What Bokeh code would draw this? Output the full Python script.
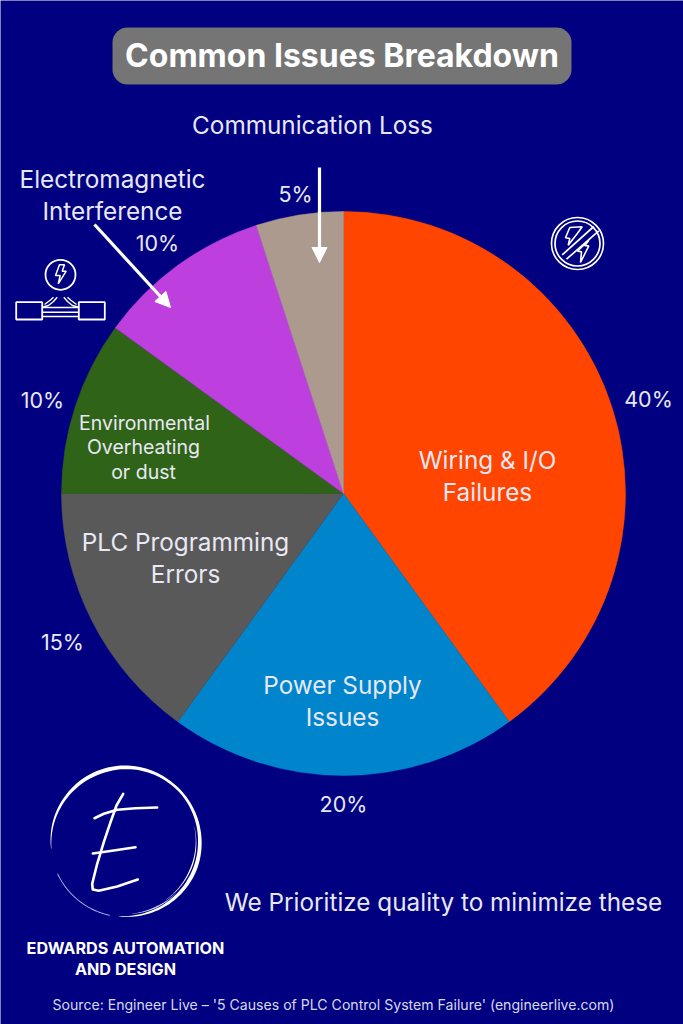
import numpy as np
from bokeh.core.properties import value
from bokeh.embed import file_html
from bokeh.models import Arrow, NormalHead, Range1d
from bokeh.plotting import figure
from bokeh.resources import INLINE

# pie data, clockwise from 12 o'clock
shares = [40, 20, 15, 10, 10, 5]
colors = ["#FF4500", "#0084CC", "#595959", "#2F6318", "#BC3FDE", "#AD9A8E"]

title_text = "Common Issues Breakdown"
pct_labels = ["40%", "20%", "15%", "10%", "10%", "5%"]
pct_x = [648, 343, 62, 42, 157, 295]
pct_y = [398, 803, 641, 399, 242, 193]

big_labels = ["Communication Loss", "Electromagnetic", "Interference", "Wiring & I/O", "Failures",
              "Power Supply", "Issues", "PLC Programming", "Errors",
              "We Prioritize quality to minimize these"]
big_x = [312, 112, 112, 487, 487, 342, 342, 185, 185, 443]
big_y = [124, 178, 210, 459, 491, 684, 716, 541, 573, 901]

small_labels = ["Environmental", "Overheating", "or dust"]
small_x = [144, 143, 143]
small_y = [422, 446, 471]

BG = "#000080"
TEXT = "#E8E8F4"
HEIGHT = 1024


def fy(y):
    # picture rows run downwards, the plot's y runs upwards
    return HEIGHT - np.asarray(y, dtype=float)


p = figure(width=683, height=HEIGHT, output_backend="svg", toolbar_location=None,
           x_range=Range1d(0, 683), y_range=Range1d(0, HEIGHT),
           x_axis_location=None, y_axis_location=None, min_border=0,
           background_fill_color=BG, border_fill_color=BG, outline_line_color=None)
p.grid.grid_line_color = None

# title pill
corner = np.linspace(0, np.pi / 2, 12)
r = 15
pill_x = np.concatenate([571 - r + r * np.sin(corner), 571 - r + r * np.cos(corner),
                         112 + r - r * np.sin(corner), 112 + r - r * np.cos(corner)])
pill_y = np.concatenate([27 + r - r * np.cos(corner), 84 - r + r * np.sin(corner),
                         84 - r + r * np.cos(corner), 27 + r - r * np.sin(corner)])
p.patch(pill_x, fy(pill_y), fill_color="#757575", line_color=None)
p.text([341.5], fy([55]), text=[title_text], text_color="white", text_font=value("Inter"),
       text_font_style="bold", text_font_size="32px", text_align="center", text_baseline="middle")

# pie
edges = np.cumsum([0] + shares) / sum(shares) * 2 * np.pi
p.wedge(x=343, y=fy(493), radius=282,
        start_angle=np.pi / 2 - edges[1:], end_angle=np.pi / 2 - edges[:-1],
        fill_color=colors, line_color=colors, line_width=0.5)


def text_block(xs, ys, labels, size):
    p.text(xs, fy(ys), text=labels, text_color=TEXT, text_font=value("Inter"), text_font_size=size,
           text_align="center", text_baseline="middle")


text_block(pct_x, pct_y, pct_labels, "21.5px")
text_block(big_x, big_y, big_labels, "24.3px")
text_block(small_x, small_y, small_labels, "19.5px")

# bold company name and source line
p.text([125, 125], fy([947, 968]), text=["EDWARDS AUTOMATION", "AND DESIGN"], text_color="white",
       text_font=value("Inter"), text_font_style="bold", text_font_size="16.2px",
       text_align="center", text_baseline="middle")
p.text([333], fy([1004]), text=["Source: Engineer Live \u2013 '5 Causes of PLC Control System Failure' (engineerlive.com)"],
       text_color="#D8D8EC", text_font=value("Inter"), text_font_size="14.1px",
       text_align="center", text_baseline="middle")

# arrows
for x0, y0, x1, y1 in [(319, 167, 319, 262), (94, 224, 170, 307)]:
    p.add_layout(Arrow(end=NormalHead(size=15, fill_color="white", line_color="white", line_width=1),
                       x_start=x0, y_start=fy(y0), x_end=x1, y_end=fy(y1),
                       line_color="white", line_width=3.2))

# no-lightning icon
p.circle([577, 577], fy([243, 243]), radius=[26, 22.5], fill_color=None, line_color="white", line_width=1.7)
p.multi_line([[561.7, 593.3], [566, 598.3]], [list(fy([254.3, 226])), list(fy([258.7, 230.3]))],
             line_color="white", line_width=1.7)
p.patch([569.3, 581.7, 577, 567.7, 569.3, 565], fy([227, 226.3, 232.7, 244.7, 238, 237.3]),
        fill_color=None, line_color="white", line_width=1.6)
p.patch([588.3, 584.3, 588.3, 580, 581, 577], fy([239.7, 245.3, 245.3, 262, 251.3, 250.7]),
        fill_color=None, line_color="white", line_width=1.6)

# wire icon
p.circle([60], fy([274.3]), radius=15, fill_color=None, line_color="white", line_width=1.8)
p.patch([59, 64, 61.7, 65.7, 57.7, 59.7, 55], fy([264.3, 264.3, 270.7, 270.7, 283.3, 275, 275]),
        fill_color=None, line_color="white", line_width=1.5)
p.quad(left=[15.7, 78.3], right=[41.7, 104.3], top=fy([301.7, 301.7]), bottom=fy([319, 319]),
       fill_color=None, line_color="white", line_width=1.8)
p.multi_line([[41.7, 78.3]] * 3, [list(fy([y, y])) for y in (307, 311.7, 316)], line_color="white", line_width=1.5)
p.multi_line([[41.7, 48, 53, 56.7], [44, 50, 53], [78.3, 72, 67, 63.3], [76, 70, 67]],
             [list(fy([306.7, 305, 301, 296.7])), list(fy([304, 299.5, 296.7])),
              list(fy([306.7, 305, 301, 296.7])), list(fy([304, 299.5, 296.7]))],
             line_color="white", line_width=1.4)


# logo ring: brush-like strokes that swell and thin along the circle
def brush(angles, widths, radius, **kw):
    t = np.radians(np.linspace(angles[0], angles[-1], 120))
    w = np.interp(np.degrees(t), angles[::-1], widths[::-1])
    xs = np.concatenate([125 + (radius + w / 2) * np.cos(t), 125 + (radius - w / 2) * np.cos(t[::-1])])
    ys = np.concatenate([841.5 - (radius + w / 2) * np.sin(t), 841.5 - (radius - w / 2) * np.sin(t[::-1])])
    p.patch(xs, fy(ys), line_color=None, **kw)


brush([185, 165, 120, 90, 50, 10, -20, -50, -75, -95],
      [0.5, 2, 4, 4, 2.5, 3, 4, 3, 1.5, 0.3], 74.5, fill_color="white")
brush([12, -20, -55], [0.2, 1.4, 0.2], 70.5, fill_color="white")
brush([-45, -65, -85], [0.2, 1.5, 0.2], 72, fill_color="#C8C8F0")
brush([205, 230, 258], [0.9, 0.8, 0.3], 75, fill_color="#B8B8E8")

# logo letter
stroke = dict(line_color="white", line_width=2.6, line_cap="round", line_join="round")
p.line([122.7, 116, 110, 103.3, 96.7, 91.7, 92.3, 98.3, 116.7, 137.3],
       fy([793.3, 805, 821.7, 841.7, 863.3, 883.3, 889, 890.3, 886, 879]), **stroke)
p.line([94, 103.3, 116.7, 135, 156.7], fy([817.7, 813.3, 809.3, 807.7, 807]), **stroke)
p.line([92.3, 113.3, 135], fy([853, 850, 846.7]), **stroke)

open("out.html", "w").write(file_html(p, INLINE))
